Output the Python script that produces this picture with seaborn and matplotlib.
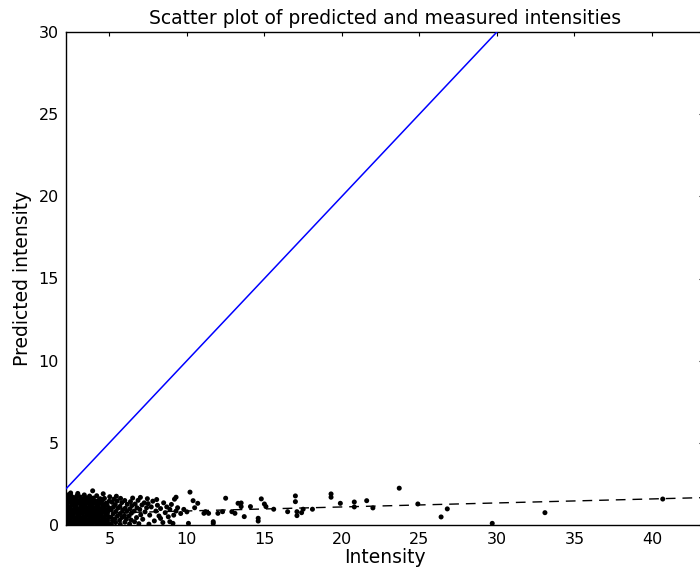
import numpy as np
import pandas as pd
import matplotlib
matplotlib.use("Agg")
import matplotlib.pyplot as plt
import seaborn as sns

# Measured vs predicted intensity
# dense cloud near the low-intensity end
dense_points = [
    (2.28, 0.05), (2.32, 0.22), (2.27, 0.41), (2.35, 0.58), (2.30, 0.77), (2.26, 0.95),
    (2.33, 1.12), (2.29, 1.31), (2.36, 1.48), (2.31, 1.66), (2.38, 1.85),
    (2.52, 0.12), (2.47, 0.30), (2.55, 0.49), (2.49, 0.66), (2.53, 0.86), (2.46, 1.03),
    (2.56, 1.21), (2.51, 1.40), (2.48, 1.58), (2.54, 1.76), (2.50, 1.95),
    (2.71, 0.03), (2.68, 0.20), (2.74, 0.38), (2.66, 0.57), (2.72, 0.74), (2.69, 0.93),
    (2.75, 1.10), (2.67, 1.29), (2.73, 1.47), (2.70, 1.67),
    (2.90, 0.10), (2.93, 0.28), (2.87, 0.46), (2.95, 0.65), (2.89, 0.83), (2.92, 1.01),
    (2.86, 1.20), (2.94, 1.38), (2.88, 1.56), (2.91, 1.78), (2.96, 1.92),
    (3.10, 0.06), (3.07, 0.24), (3.13, 0.42), (3.06, 0.61), (3.12, 0.79), (3.09, 0.97),
    (3.15, 1.16), (3.08, 1.34), (3.14, 1.52), (3.11, 1.71),
    (3.31, 0.13), (3.28, 0.31), (3.34, 0.50), (3.27, 0.69), (3.33, 0.87), (3.30, 1.05),
    (3.36, 1.24), (3.29, 1.43), (3.35, 1.62), (3.38, 1.83),
    (3.50, 0.04), (3.53, 0.21), (3.47, 0.39), (3.55, 0.58), (3.49, 0.76), (3.52, 0.94),
    (3.46, 1.13), (3.54, 1.31), (3.48, 1.50), (3.51, 1.66),
    (3.71, 0.11), (3.68, 0.29), (3.74, 0.47), (3.67, 0.66), (3.73, 0.84), (3.70, 1.02),
    (3.76, 1.21), (3.69, 1.40), (3.75, 1.57), (3.72, 1.76),
    (3.90, 0.05), (3.93, 0.23), (3.87, 0.41), (3.95, 0.60), (3.89, 0.78), (3.92, 0.96),
    (3.86, 1.15), (3.94, 1.33), (3.88, 1.52), (3.97, 1.64), (3.92, 2.08),
    (4.11, 0.14), (4.08, 0.32), (4.14, 0.51), (4.07, 0.70), (4.13, 0.88), (4.10, 1.06),
    (4.16, 1.25), (4.09, 1.44), (4.18, 1.78),
    (4.30, 0.03), (4.33, 0.20), (4.27, 0.38), (4.35, 0.57), (4.29, 0.75), (4.32, 0.93),
    (4.26, 1.12), (4.34, 1.30), (4.28, 1.49), (4.40, 1.60),
    (4.51, 0.10), (4.48, 0.28), (4.54, 0.47), (4.47, 0.65), (4.53, 0.84), (4.50, 1.02),
    (4.56, 1.20), (4.49, 1.39), (4.55, 1.52), (4.60, 1.90),
    (4.70, 0.06), (4.73, 0.24), (4.67, 0.43), (4.75, 0.61), (4.69, 0.80), (4.72, 0.98),
    (4.66, 1.17), (4.79, 1.33), (4.68, 1.62),
    (4.91, 0.12), (4.88, 0.30), (4.94, 0.49), (4.87, 0.68), (4.93, 0.86), (4.98, 1.04),
    (4.85, 1.21), (4.99, 1.45), (5.02, 1.72),
]

# thinning cloud between 5 and 10
mid_points = [
    (5.13, 0.05), (5.20, 0.26), (5.10, 0.47), (5.24, 0.68), (5.12, 0.92), (5.26, 1.10),
    (5.18, 1.38), (5.28, 1.57),
    (5.40, 0.15), (5.36, 0.38), (5.52, 0.55), (5.41, 0.82), (5.55, 1.02), (5.38, 1.24),
    (5.50, 1.46), (5.45, 1.75),
    (5.70, 0.04), (5.66, 0.28), (5.82, 0.46), (5.70, 0.70), (5.85, 0.92), (5.68, 1.13),
    (5.80, 1.36), (5.72, 1.62),
    (6.00, 0.17), (6.10, 0.36), (5.97, 0.58), (6.12, 0.83), (6.02, 1.02), (6.15, 1.26),
    (5.99, 1.49),
    (6.30, 0.06), (6.40, 0.30), (6.27, 0.55), (6.42, 0.72), (6.33, 0.98), (6.45, 1.18),
    (6.36, 1.42), (6.50, 1.64),
    (6.62, 0.20), (6.75, 0.45), (6.60, 0.85), (6.78, 1.05), (6.66, 1.28), (6.85, 1.50),
    (6.90, 0.08), (7.02, 0.62), (6.96, 0.95), (7.10, 1.22), (7.00, 1.68), (7.15, 0.35),
    (7.30, 0.80), (7.40, 1.05), (7.50, 1.30), (7.60, 0.60), (7.70, 1.10), (7.80, 1.45),
    (7.90, 0.25), (8.00, 0.85), (8.10, 1.20), (8.20, 0.55), (8.30, 1.00), (8.30, 0.40),
    (8.50, 1.35), (8.60, 0.75), (8.70, 1.10), (8.80, 0.50), (8.90, 0.95), (9.00, 1.25),
    (9.30, 0.85), (9.40, 1.05), (9.60, 0.70), (9.80, 0.95), (10.00, 0.80), (7.45, 1.60),
    (8.05, 1.55), (8.45, 0.15), (9.15, 0.60), (8.90, 0.20), (9.10, 0.10), (10.10, 0.10),
    (7.55, 0.05), (7.25, 1.35),
]

# sparse points at higher intensity
sparse_points = [
    (10.2, 2.00), (9.3, 1.69), (9.2, 1.57), (10.4, 1.48), (10.7, 1.32), (11.1, 0.71),
    (11.4, 0.71), (11.7, 0.10), (11.7, 0.20), (12.0, 0.71), (12.3, 0.81), (12.5, 1.63),
    (12.9, 0.81), (13.1, 0.71), (13.3, 1.32), (13.5, 1.12), (11.2, 0.81), (10.5, 1.05),
    (13.5, 1.34), (13.7, 0.51), (14.1, 1.12), (14.8, 1.59), (15.0, 1.28), (15.1, 1.12),
    (15.6, 0.96), (14.6, 0.41), (14.6, 0.24), (16.5, 0.81), (17.0, 1.77), (17.0, 1.42),
    (17.1, 0.81), (17.1, 0.57), (17.4, 0.75), (17.5, 0.96), (18.1, 0.96), (19.3, 1.89),
    (19.3, 1.69), (19.9, 1.32), (20.8, 1.40), (20.8, 1.10), (21.6, 1.48), (22.0, 1.04),
    (23.7, 2.24), (24.9, 1.28), (26.4, 0.49), (26.8, 0.98), (29.7, 0.10), (33.1, 0.75),
    (40.7, 1.58),
]

# least-squares fit shown as the dashed line
fit_intercept = 0.61
fit_slope = 0.0244

x_range = [2.2, 43.33]
y_range = [0, 30]

pts = np.array(dense_points + mid_points + sparse_points)
df = pd.DataFrame({"Intensity": pts[:, 0], "Predicted": pts[:, 1]})

sns.set_style("white")
plt.rcParams.update({
    "font.family": ["DejaVu Sans"],
    "text.color": "black",
    "axes.labelcolor": "black",
    "xtick.direction": "in",
    "ytick.direction": "in",
    "xtick.top": True,
    "ytick.right": True,
    "xtick.major.size": 3,
    "ytick.major.size": 3,
    "axes.edgecolor": "black",
    "axes.linewidth": 1.0,
})

fig = plt.figure(figsize=(7.0, 5.78), dpi=100)
ax = fig.add_axes([66 / 700, 1 - 525 / 578, 637.5 / 700, 493 / 578])

sns.scatterplot(data=df, x="Intensity", y="Predicted", ax=ax, color="black",
                s=13, linewidth=0, edgecolor="none", zorder=2)

# identity line
ax.plot(x_range, x_range, color="#0000ff", lw=1.1, zorder=3)

# fitted line
fx = np.array(x_range)
ax.plot(fx, fit_intercept + fit_slope * fx, color="black", lw=1.0,
        dashes=(7, 5), zorder=3)

ax.set_xlim(x_range)
ax.set_ylim(y_range)
ax.set_xticks([5, 10, 15, 20, 25, 30, 35, 40])
ax.set_yticks([0, 5, 10, 15, 20, 25, 30])
ax.tick_params(labelsize=11.5, colors="black", width=0.8, pad=5)
ax.set_xlabel("Intensity", fontsize=13.5, labelpad=1)
ax.set_ylabel("Predicted intensity", fontsize=13.5, labelpad=5)
ax.set_title("Scatter plot of predicted and measured intensities", fontsize=13.5, pad=6)

fig.savefig("out.png", dpi=100)
